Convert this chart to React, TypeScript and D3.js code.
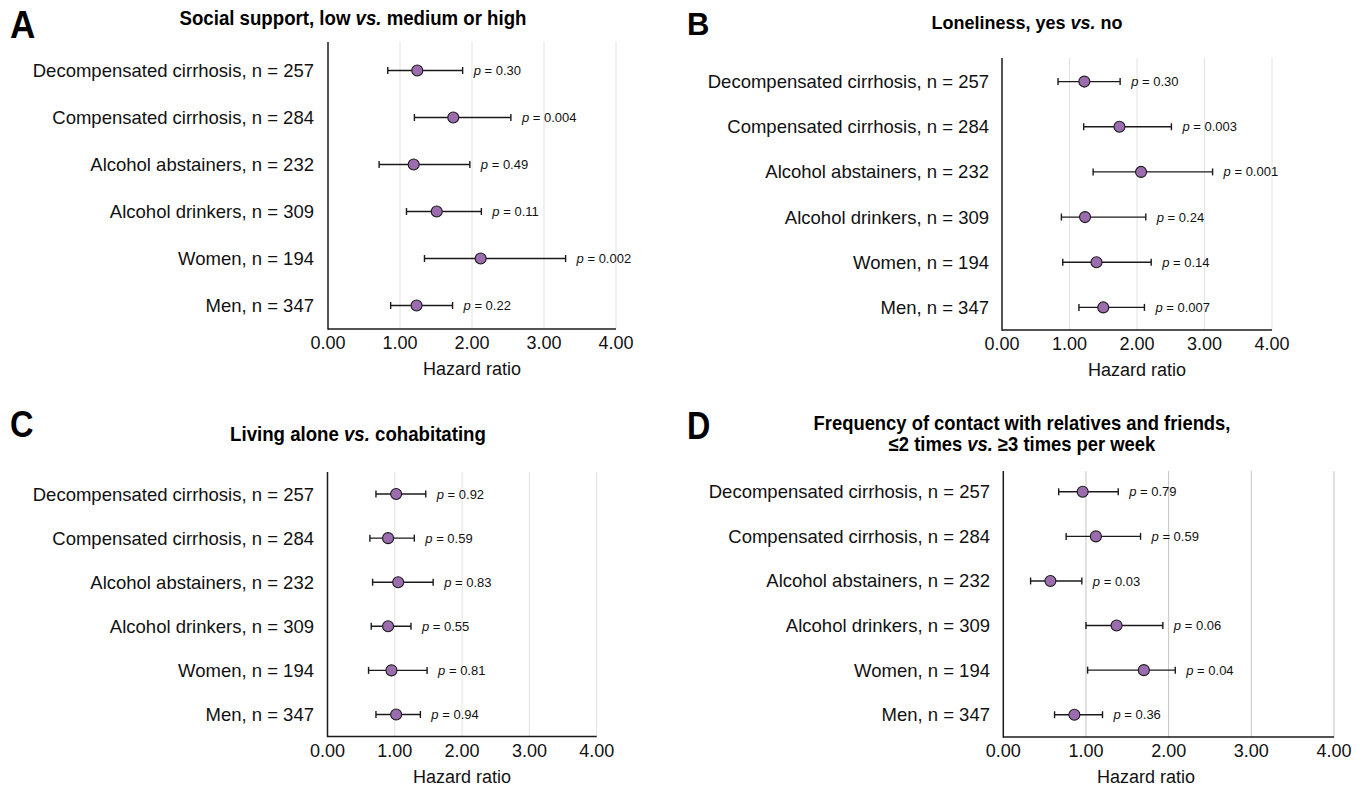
import React from "react";
import * as d3 from "d3";

const categories = [
  "Decompensated cirrhosis, n = 257",
  "Compensated cirrhosis, n = 284",
  "Alcohol abstainers, n = 232",
  "Alcohol drinkers, n = 309",
  "Women, n = 194",
  "Men, n = 347",
];
const tickValues = [0, 1, 2, 3, 4];

// Panel A: Social support
const hrA = [1.24, 1.74, 1.19, 1.51, 2.12, 1.23];
const loA = [0.83, 1.2, 0.71, 1.09, 1.34, 0.87];
const hiA = [1.87, 2.54, 1.97, 2.13, 3.3, 1.73];
const pA = ["0.30", "0.004", "0.49", "0.11", "0.002", "0.22"];

// Panel B: Loneliness
const hrB = [1.22, 1.74, 2.06, 1.23, 1.4, 1.5];
const loB = [0.83, 1.21, 1.35, 0.88, 0.9, 1.14];
const hiB = [1.75, 2.51, 3.12, 2.13, 2.21, 2.11];
const pB = ["0.30", "0.003", "0.001", "0.24", "0.14", "0.007"];

// Panel C: Living alone
const hrC = [1.02, 0.9, 1.05, 0.9, 0.95, 1.02];
const loC = [0.72, 0.63, 0.67, 0.65, 0.61, 0.72];
const hiC = [1.46, 1.29, 1.57, 1.24, 1.48, 1.38];
const pC = ["0.92", "0.59", "0.83", "0.55", "0.81", "0.94"];

// Panel D: Frequency of contact
const hrD = [0.96, 1.12, 0.57, 1.37, 1.7, 0.86];
const loD = [0.67, 0.76, 0.33, 1.0, 1.02, 0.62];
const hiD = [1.39, 1.66, 0.95, 1.93, 2.08, 1.2];
const pD = ["0.79", "0.59", "0.03", "0.06", "0.04", "0.36"];

type Seg = { t: string; i?: boolean };
const titleA: Seg[][] = [[{ t: "Social support, low " }, { t: "vs.", i: true }, { t: " medium or high" }]];
const titleB: Seg[][] = [[{ t: "Loneliness, yes " }, { t: "vs.", i: true }, { t: " no" }]];
const titleC: Seg[][] = [[{ t: "Living alone " }, { t: "vs.", i: true }, { t: " cohabitating" }]];
const titleD: Seg[][] = [
  [{ t: "Frequency of contact with relatives and friends," }],
  [{ t: "≤2 times " }, { t: "vs.", i: true }, { t: " ≥3 times per week" }],
];

const SANS = "'Liberation Sans', Arial, Helvetica, sans-serif";

type Panel = {
  letter: string;
  title: Seg[][];
  hr: number[];
  lo: number[];
  hi: number[];
  p: string[];
  x0: number;
  x1: number;
  axisTop: number;
  bandTop: number;
  bottom: number;
  labelRight: number;
  letterX: number;
  letterY: number;
  letterSize: number;
  letterScale: number;
  titleCx: number;
  titleY: number[];
  titleSize: number;
  titleScale: number;
  hazardCx: number;
  gridColor: string;
};

const panels: Panel[] = [
  {
    letter: "A", title: titleA, hr: hrA, lo: loA, hi: hiA, p: pA,
    x0: 328, x1: 616, axisTop: 42, bandTop: 47, bottom: 329, labelRight: 314,
    letterX: 10, letterY: 38, letterSize: 39, letterScale: 0.9,
    titleCx: 353, titleY: [25], titleSize: 20.5, titleScale: 0.91, hazardCx: 472, gridColor: "#e2e2e2",
  },
  {
    letter: "B", title: titleB, hr: hrB, lo: loB, hi: hiB, p: pB,
    x0: 1002, x1: 1272, axisTop: 58, bandTop: 59, bottom: 330, labelRight: 989,
    letterX: 687, letterY: 35, letterSize: 31, letterScale: 1,
    titleCx: 1027, titleY: [29], titleSize: 18, titleScale: 1, hazardCx: 1137, gridColor: "#e2e2e2",
  },
  {
    letter: "C", title: titleC, hr: hrC, lo: loC, hi: hiC, p: pC,
    x0: 327.5, x1: 596.7, axisTop: 472, bandTop: 472, bottom: 736.5, labelRight: 314,
    letterX: 10, letterY: 437, letterSize: 37, letterScale: 0.88,
    titleCx: 358, titleY: [441], titleSize: 20.5, titleScale: 0.91, hazardCx: 462, gridColor: "#e2e2e2",
  },
  {
    letter: "D", title: titleD, hr: hrD, lo: loD, hi: hiD, p: pD,
    x0: 1003.3, x1: 1334, axisTop: 471, bandTop: 469.5, bottom: 737, labelRight: 990,
    letterX: 687, letterY: 439, letterSize: 38, letterScale: 0.85,
    titleCx: 1022, titleY: [430, 451], titleSize: 20, titleScale: 0.92, hazardCx: 1146, gridColor: "#c4c4c4",
  },
];

const fmt = d3.format(".2f");

function PanelView({ pn }: { pn: Panel }) {
  const x = d3.scaleLinear().domain([0, 4]).range([pn.x0, pn.x1]);
  const y = d3.scaleBand<string>().domain(categories).range([pn.bandTop, pn.bottom]).padding(0);
  const cy = (c: string) => (y(c) as number) + y.bandwidth() / 2;
  const cap = 3.5;
  return (
    <g>
      <text
        x={pn.letterX / pn.letterScale}
        y={pn.letterY}
        transform={`scale(${pn.letterScale},1)`}
        fontFamily={SANS}
        fontWeight="bold"
        fontSize={pn.letterSize}
        fill="#000"
      >
        {pn.letter}
      </text>
      {pn.title.map((line, li) => (
        <text
          key={li}
          x={pn.titleCx / pn.titleScale}
          y={pn.titleY[li]}
          transform={`scale(${pn.titleScale},1)`}
          textAnchor="middle"
          fontFamily={SANS}
          fontWeight="bold"
          fontSize={pn.titleSize}
          fill="#000"
        >
          {line.map((s, si) => (
            <tspan key={si} fontStyle={s.i ? "italic" : "normal"}>
              {s.t}
            </tspan>
          ))}
        </text>
      ))}
      {tickValues.filter((t) => t > 0).map((t) => (
        <line key={t} x1={x(t)} x2={x(t)} y1={pn.axisTop} y2={pn.bottom} stroke={pn.gridColor} strokeWidth={1} />
      ))}
      <line x1={x(0)} x2={x(0)} y1={pn.axisTop} y2={pn.bottom + 0.75} stroke="#1a1a1a" strokeWidth={1.5} />
      <line x1={x(0)} x2={x(4)} y1={pn.bottom} y2={pn.bottom} stroke="#1a1a1a" strokeWidth={1.5} />
      {tickValues.map((t) => (
        <text key={t} x={x(t)} y={pn.bottom + 20} textAnchor="middle" fontFamily={SANS} fontSize={18} fill="#111">
          {fmt(t)}
        </text>
      ))}
      <text x={pn.hazardCx} y={pn.bottom + 46} textAnchor="middle" fontFamily={SANS} fontSize={18} fill="#111">
        Hazard ratio
      </text>
      {categories.map((c, i) => {
        const yy = cy(c);
        return (
          <g key={c}>
            <text x={pn.labelRight} y={yy} dy="0.35em" textAnchor="end" fontFamily={SANS} fontSize={18.5} fill="#111">
              {c}
            </text>
            <line x1={x(pn.lo[i])} x2={x(pn.hi[i])} y1={yy} y2={yy} stroke="#1a1a1a" strokeWidth={1.4} />
            <line x1={x(pn.lo[i])} x2={x(pn.lo[i])} y1={yy - cap} y2={yy + cap} stroke="#1a1a1a" strokeWidth={1.4} />
            <line x1={x(pn.hi[i])} x2={x(pn.hi[i])} y1={yy - cap} y2={yy + cap} stroke="#1a1a1a" strokeWidth={1.4} />
            <circle cx={x(pn.hr[i])} cy={yy} r={5.5} fill="#9b6cae" stroke="#1a1a1a" strokeWidth={1.1} />
            <text x={x(pn.hi[i]) + 11} y={yy} dy="0.35em" fontFamily={SANS} fontSize={13} fill="#111">
              <tspan fontStyle="italic">p</tspan>
              {" = " + pn.p[i]}
            </text>
          </g>
        );
      })}
    </g>
  );
}

export default function App() {
  return (
    <svg
      width={1367}
      height={790}
      viewBox="0 0 1367 790"
      style={{ position: "absolute", left: 0, top: 0, background: "#fff" }}
    >
      <rect x={0} y={0} width={1367} height={790} fill="#fff" />
      {panels.map((pn) => (
        <PanelView key={pn.letter} pn={pn} />
      ))}
    </svg>
  );
}
